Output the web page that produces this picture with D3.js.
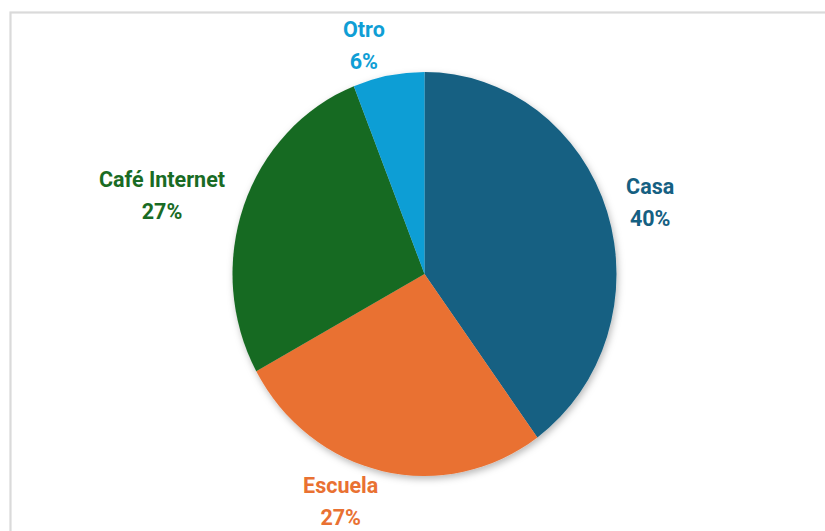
<!DOCTYPE html>
<html>
<head>
<meta charset="utf-8">
<script src="https://cdn.jsdelivr.net/npm/d3@7"></script>
<style>
  html, body { margin: 0; padding: 0; background: #fff; }
  svg { display: block; }
</style>
</head>
<body>
<svg id="chart" width="825" height="531"></svg>
<script>
const categories = ["Casa", "Escuela", "Café Internet", "Otro"];
const values = [40, 27, 27, 6];
const labels = ["40%", "27%", "27%", "6%"];
const colors = ["#156082", "#E97132", "#196B24", "#0F9ED5"];

const W = 825, H = 531;
const cx = 424.5, cy = 274;
const rx = 192, ry = 202;
const svg = d3.select("#chart");

// frame
svg.append("rect")
  .attr("x", 10.5).attr("y", 12.5)
  .attr("width", W + 20).attr("height", H + 20)
  .attr("fill", "#fff").attr("stroke", "#dadada").attr("stroke-width", 2.2);

const defs = svg.append("defs");
const f = defs.append("filter").attr("id", "shadow")
  .attr("x", "-20%").attr("y", "-20%").attr("width", "140%").attr("height", "140%");
f.append("feDropShadow").attr("dx", 1.5).attr("dy", 3).attr("stdDeviation", 3.5)
  .attr("flood-color", "#000").attr("flood-opacity", 0.28);

const data = categories.map((c, i) => ({ cat: c, value: values[i], label: labels[i], color: colors[i] }));
const pie = d3.pie().value(d => d.value).sort(null);
const arcs = pie(data);
const arc = d3.arc().innerRadius(0).outerRadius(ry);

const g = svg.append("g").attr("filter", "url(#shadow)")
  .append("g")
  .attr("transform", `translate(${cx},${cy}) scale(${rx / ry},1)`);

g.selectAll("path").data(arcs).join("path")
  .attr("d", arc)
  .attr("fill", d => d.data.color);

// labels (outside end)
const fontSize = 21.5, lineGap = 32, gapX = 20, gapY = 7;
const capH = fontSize * 0.71;
const lg = svg.append("g");
arcs.forEach(a => {
  const mid = (a.startAngle + a.endAngle) / 2;
  const s = Math.sin(mid), c = Math.cos(mid);
  const t = lg.append("text")
    .attr("text-anchor", "middle")
    .attr("font-family", "Roboto, 'Noto Sans', sans-serif")
    .attr("font-weight", "bold")
    .attr("font-size", fontSize)
    .attr("fill", a.data.color);
  t.append("tspan").attr("x", 0).attr("y", 0).text(a.data.cat);
  t.append("tspan").attr("x", 0).attr("y", lineGap).text(a.data.label);
  const bb = t.node().getBBox();
  const hw = bb.width / 2;
  const blockH = capH + lineGap;          // cap top of line 1 to baseline of line 2
  const hh = blockH / 2;
  const ccx = cx + s * (rx + gapX) + Math.sign(s) * hw;
  const ccy = cy - c * (ry + gapY + hh);
  const baseline1 = ccy - hh + capH;
  t.attr("transform", `translate(${ccx},${baseline1})`);
});
</script>
</body>
</html>
